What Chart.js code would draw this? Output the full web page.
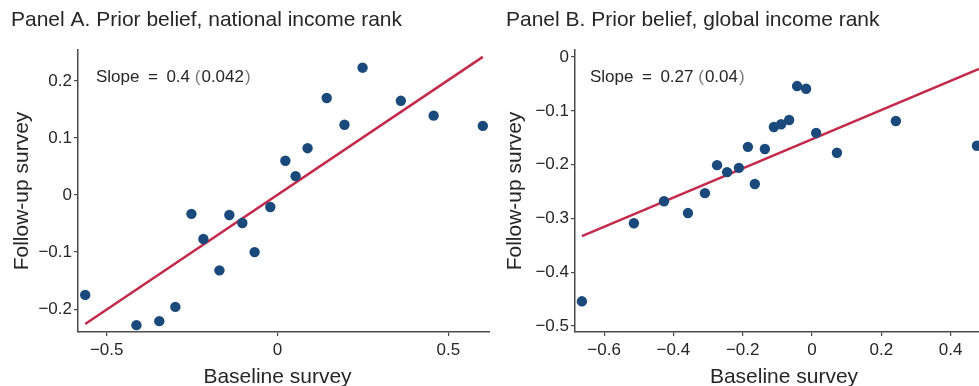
<!DOCTYPE html>
<html><head><meta charset="utf-8">
<script src="https://cdn.jsdelivr.net/npm/chart.js@4/dist/chart.umd.min.js"></script>
<style>
html,body{margin:0;padding:0;background:#fff;overflow:hidden}
#wrap{position:relative;width:979px;height:386px;background:#fff}
canvas{position:absolute;top:0}
</style></head><body>
<div id="wrap">
<canvas id="a" width="490" height="386" style="left:0"></canvas>
<canvas id="b" width="489" height="386" style="left:490px"></canvas>
</div>
<script>
// ---- Panel A data ----
const titleA = 'Panel A. Prior belief, national income rank';
const slopeA = '0.4';
const seA = '0.042';
const baselineA = [-0.563,-0.413,-0.346,-0.299,-0.252,-0.217,-0.170,-0.141,-0.103,-0.067,-0.021,0.023,0.053,0.088,0.144,0.196,0.249,0.361,0.457,0.601];
const followupA = [-0.175,-0.228,-0.221,-0.196,-0.033,-0.077,-0.132,-0.035,-0.049,-0.100,-0.021,0.060,0.033,0.082,0.170,0.123,0.223,0.165,0.139,0.121];
const fitXA = [-0.563, 0.601];
const fitYA = [-0.226, 0.242];
const xTicksA = [-0.5, 0, 0.5];
const yTicksA = [-0.2, -0.1, 0, 0.1, 0.2];

// ---- Panel B data ----
const titleB = 'Panel B. Prior belief, global income rank';
const slopeB = '0.27';
const seB = '0.04';
const baselineB = [-0.664,-0.514,-0.427,-0.358,-0.309,-0.274,-0.245,-0.211,-0.185,-0.165,-0.136,-0.110,-0.089,-0.066,-0.043,-0.017,0.012,0.072,0.242,0.476];
const followupB = [-0.454,-0.309,-0.268,-0.290,-0.253,-0.201,-0.214,-0.206,-0.167,-0.236,-0.171,-0.130,-0.125,-0.117,-0.054,-0.059,-0.141,-0.178,-0.119,-0.165];
const fitXB = [-0.664, 0.482];
const fitYB = [-0.333, -0.022];
const xTicksB = [-0.6, -0.4, -0.2, 0, 0.2, 0.4];
const yTicksB = [-0.5, -0.4, -0.3, -0.2, -0.1, 0];

const xTitle = 'Baseline survey';
const yTitle = 'Follow-up survey';

const FONT = "'Liberation Sans', Arial, Helvetica, sans-serif";
const TXT = '#262626';
const PAREN = '#7a7a7a';
const AXC = '#4a4a4a';
const DOT = '#1a4a7c';
const LINE = '#c32a4c';

function fmt(v){
  const r = Math.round(v*10)/10;
  if (r === 0) return '0';
  const s = Math.abs(r).toString();
  return (r < 0 ? '\u2212' : '') + s;
}

const annotPlugin = {
  id: 'annot',
  afterDatasetsDraw(chart, args, opts) {
    const {ctx, chartArea} = chart;
    ctx.save();
    ctx.textBaseline = 'alphabetic';
    ctx.textAlign = 'left';
    // slope annotation
    ctx.font = '17px ' + FONT;
    let x = chartArea.left + opts.dx;
    const y = chartArea.top + opts.dy;
    const parts = [
      ['Slope\u2002=\u2002' + opts.slope + ' ', TXT],
      ['(', PAREN], [opts.se, TXT], [')', PAREN]
    ];
    for (const [t, c] of parts) {
      ctx.fillStyle = c;
      ctx.fillText(t, x, y);
      x += ctx.measureText(t).width + (t === '(' || t === opts.se ? 1 : 0);
    }
    // x axis title
    ctx.font = '21px ' + FONT;
    ctx.fillStyle = TXT;
    ctx.textAlign = 'center';
    ctx.textBaseline = 'middle';
    ctx.fillText(opts.xTitle, (chartArea.left + chartArea.right) / 2 + opts.xtDx, 377);
    ctx.restore();
  }
};

function makeChart(id, cfg) {
  const pts = cfg.bx.map((x, i) => ({x: x, y: cfg.fy[i]}));
  const fit = cfg.fitX.map((x, i) => ({x: x, y: cfg.fitY[i]}));
  return new Chart(document.getElementById(id), {
    type: 'scatter',
    data: {
      datasets: [
        {type: 'line', data: fit, borderColor: LINE, borderWidth: 2.5, pointRadius: 0, fill: false, clip: false, order: 2},
        {data: pts, backgroundColor: DOT, borderColor: DOT, borderWidth: 0, pointRadius: 5.2, pointHoverRadius: 5.2, clip: false, order: 1}
      ]
    },
    options: {
      responsive: false,
      animation: false,
      events: [],
      layout: {autoPadding: false, padding: {left: cfg.padLeft, right: 0, top: 0, bottom: 0}},
      plugins: {
        legend: {display: false},
        tooltip: {enabled: false},
        title: {display: true, text: cfg.title, align: 'start', color: TXT,
                font: {family: FONT, size: 21, weight: 'normal', lineHeight: 1.2},
                padding: {top: 8, bottom: 16.8}},
        annot: {slope: cfg.slope, se: cfg.se, dx: cfg.sdx, dy: 32, xTitle: xTitle, xtDx: cfg.xtDx}
      },
      scales: {
        x: {
          type: 'linear', min: cfg.xmin, max: cfg.xmax,
          afterBuildTicks: s => { s.ticks = cfg.xTicks.map(v => ({value: v})); },
          afterFit: s => { s.height = 54; s.paddingLeft = 0; s.paddingRight = 0; },
          grid: {drawOnChartArea: false, drawTicks: true, tickLength: 4, color: AXC, lineWidth: 1.2},
          border: {display: true, color: AXC, width: 1.5},
          ticks: {callback: v => fmt(v), color: TXT, padding: 4, font: {family: FONT, size: 17}, maxRotation: 0, autoSkip: false},
          title: {display: false, text: xTitle}
        },
        y: {
          type: 'linear', min: cfg.ymin, max: cfg.ymax,
          afterBuildTicks: s => { s.ticks = cfg.yTicks.map(v => ({value: v})); },
          afterFit: s => { s.width = cfg.yWidth; s.paddingTop = 0; s.paddingBottom = 0; },
          grid: {drawOnChartArea: false, drawTicks: true, tickLength: 4, color: AXC, lineWidth: 1.2},
          border: {display: true, color: AXC, width: 1.5},
          ticks: {callback: v => fmt(v), color: TXT, padding: 2, font: {family: FONT, size: 17}, autoSkip: false},
          title: {display: true, text: yTitle, color: TXT, font: {family: FONT, size: 21, lineHeight: 1}, padding: {top: cfg.ytPad, bottom: 0}}
        }
      }
    },
    plugins: [annotPlugin]
  });
}

makeChart('a', {
  title: titleA, slope: slopeA, se: seA, bx: baselineA, fy: followupA, fitX: fitXA, fitY: fitYA,
  xTicks: xTicksA, yTicks: yTicksA, xmin: -0.584, xmax: 0.622, ymin: -0.240, ymax: 0.254,
  padLeft: 11, yWidth: 67, ytPad: 0.5, sdx: 18, xtDx: -6.5
});
makeChart('b', {
  title: titleB, slope: slopeB, se: seB, bx: baselineB, fy: followupB, fitX: fitXB, fitY: fitYB,
  xTicks: xTicksB, yTicks: yTicksB, xmin: -0.684, xmax: 0.482, ymin: -0.511, ymax: 0.013,
  padLeft: 16, yWidth: 69, ytPad: -1.5, sdx: 15, xtDx: 7
});
</script>
</body></html>
